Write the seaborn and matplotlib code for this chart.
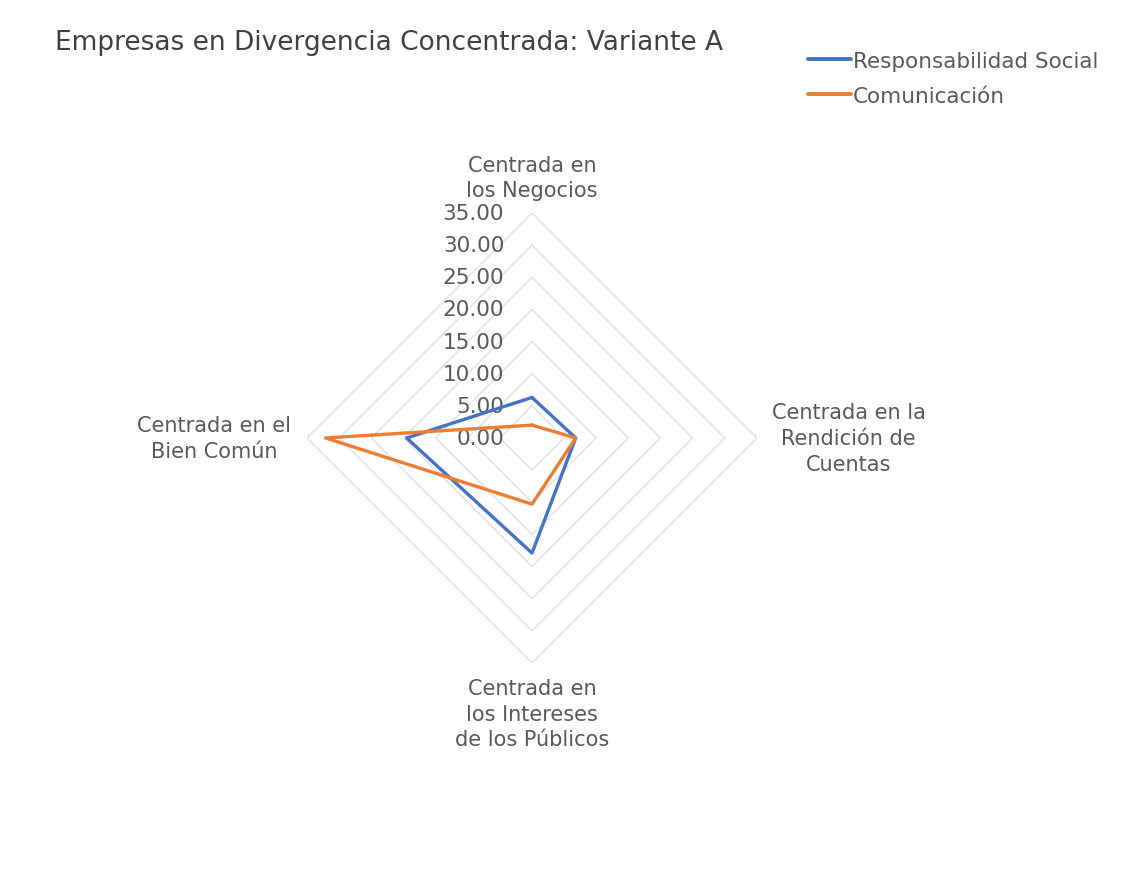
import numpy as np
import pandas as pd
import seaborn as sns
import matplotlib.pyplot as plt

# data
categorias = ["Centrada en\nlos Negocios", "Centrada en la\nRendición de\nCuentas",
              "Centrada en\nlos Intereses\nde los Públicos", "Centrada en el\nBien Común"]
responsabilidad = [6.3, 6.8, 17.9, 19.5]
comunicacion = [2.0, 6.8, 10.3, 32.1]
niveles = [0, 5, 10, 15, 20, 25, 30, 35]
series = ["Responsabilidad Social", "Comunicación"]
colores = ["#4472C4", "#ED7D31"]

sns.set_theme(style="white")
plt.rcParams["font.family"] = ["DejaVu Sans"]
FONT = "DejaVu Sans"

angles = np.linspace(0, 2 * np.pi, len(categorias), endpoint=False)
ang_closed = np.append(angles, angles[0] + 2 * np.pi)

rows = []
for name, vals in zip(series, [responsabilidad, comunicacion]):
    v = list(vals) + [vals[0]]
    for a, val in zip(ang_closed, v):
        rows.append({"angle": a, "valor": val, "serie": name})
df = pd.DataFrame(rows)

fig = plt.figure(figsize=(11.3, 8.79), dpi=100)
ax = fig.add_axes([0.2717, 0.2446, 0.3982, 0.512], projection="polar")
ax.set_theta_zero_location("N")
ax.set_theta_direction(-1)
ax.set_ylim(0, 35)
ax.grid(False)
ax.spines["polar"].set_visible(False)
ax.set_xticks([])
ax.set_yticks([])

# diamond grid
for lv in niveles[1:]:
    ax.plot(ang_closed, [lv] * len(ang_closed), color="#E3E3E3", lw=1.1, zorder=1)

sns.lineplot(data=df, x="angle", y="valor", hue="serie", hue_order=series,
             palette=colores, sort=False, lw=2.4, legend=False, ax=ax, zorder=3)
ax.set_xlabel("")
ax.set_ylabel("")

# radial tick labels
for lv in niveles:
    ax.annotate(f"{lv:.2f}", xy=(0, lv), xytext=(-20, 0), textcoords="offset points",
                ha="right", va="center", fontsize=15.5, color="#595959", zorder=2,
                family=FONT)

# category labels
aligns = [("center", "bottom"), ("center", "center"), ("center", "top"), ("center", "center")]
offsets = [(0, 9), (66, 0), (0, -11), (-67, 0)]
for a, lab, (ha, va), off in zip(angles, categorias, aligns, offsets):
    ax.annotate(lab, xy=(a, 35), xytext=off, textcoords="offset points",
                ha=ha, va=va, fontsize=15, color="#595959", linespacing=1.35,
                family=FONT)

fig.text(0.049, 0.951, "Empresas en Divergencia Concentrada: Variante A",
         fontsize=19, color="#404040", ha="left", va="center", family=FONT)

handles = [plt.Line2D([], [], color=c, lw=2.8) for c in colores]
leg = fig.legend(handles, series, loc="upper right", bbox_to_anchor=(0.989, 0.963),
                 frameon=False, handlelength=2.0, handletextpad=0.1,
                 labelspacing=0.7, prop={"family": FONT, "size": 15.5})
for t in leg.get_texts():
    t.set_color("#595959")

fig.savefig("out.png", dpi=100, facecolor="white")
